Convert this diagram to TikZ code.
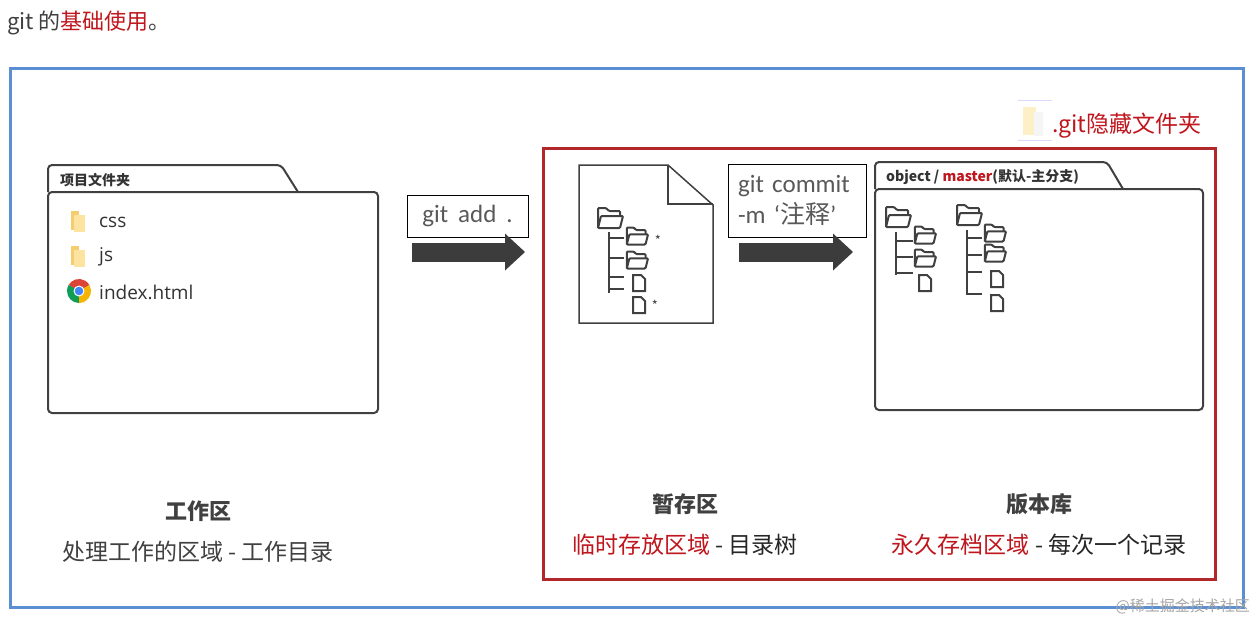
\documentclass[tikz,border=0pt]{standalone}
\usepackage{fontspec}
\setmainfont{Noto Sans CJK SC}
\newfontfamily\cmdfont{Carlito}
\newfontfamily\filefont{Open Sans}
\usetikzlibrary{arrows.meta}
\definecolor{framblue}{RGB}{91,143,212}
\definecolor{framred}{RGB}{178,40,42}
\definecolor{txtred}{RGB}{192,22,29}
\definecolor{inkgray}{RGB}{64,64,64}
\definecolor{arrgray}{RGB}{60,60,60}
\definecolor{foldyel}{RGB}{245,205,110}
\definecolor{foldlight}{RGB}{252,228,160}
\definecolor{chred}{RGB}{219,68,55}
\definecolor{chgreen}{RGB}{15,157,88}
\definecolor{chyellow}{RGB}{244,180,0}
\definecolor{chblue}{RGB}{66,133,244}

\begin{document}
\begin{tikzpicture}[x=1pt, y=-1pt]
\tikzstyle{every node} = [inner sep=0pt, text=inkgray]
\tikzstyle{folderline} = [draw=inkgray, line width=2pt]
\tikzstyle{folderbody} = [folderline, rectangle, rounded corners=4pt, outer sep=0pt]
\tikzstyle{treeline} = [draw=black!75, line width=2pt]
\tikzstyle{cmdbox} = [draw=black, line width=1pt, font=\cmdfont\fontsize{25}{31}\selectfont, text=black!65]
\tikzstyle{blockarr} = [draw=arrgray, line width=19pt, -{Triangle[length=20pt 0 0, width=37pt 0 0, line width=0pt 0 0]}]
\tikzstyle{areatitle} = [font=\bfseries\fontsize{22}{26}\selectfont]
\tikzstyle{areadesc} = [font=\fontsize{23}{27}\selectfont]
\tikzstyle{filename} = [anchor=west, font=\filefont\fontsize{19}{22}\selectfont, text=black!80]
\tikzset{
  dirico/.pic={
    \draw[treeline, rounded corners=1pt] (-12,10) -- (-12,-10) -- (-4,-10) -- (-1,-7) -- (10,-7) -- (10,-2);
    \draw[treeline, rounded corners=1pt] (-12,10) -- (-9,-2) -- (13,-2) -- (10,10) -- cycle;},
  fileico/.pic={
    \draw[treeline] (-6,-8) -- (2,-8) -- (6,-4) -- (6,8) -- (-6,8) -- cycle;}
}
\fill[white] (0,0) rectangle (1256,621);
\useasboundingbox (0,0) rectangle (1256,621);

% title and frames
\node[anchor=west, font=\fontsize{22}{26}\selectfont] (title) at (7,23) {git 的{\color{txtred}基础使用}。};
\draw[framblue, line width=3pt] (10,68) rectangle (1243,607);
\draw[framred, line width=3pt] (543,148) rectangle (1215,579);

% working folder
\node[folderbody, minimum width=330, minimum height=221] (work) at (213,302.5) {};
\draw[folderline, rounded corners=4pt] (work.north west) |- ++(233,-27) -- ++(17,27);
\node[anchor=west, font=\bfseries\fontsize{14}{16}\selectfont, text=black!80] (worktab) at (60,180) {项目文件夹};
\foreach \y in {221,256} {
  \fill[foldyel] (71,\y-10) rectangle (79,\y+9);
  \fill[foldlight] (74,\y-6) rectangle (85,\y+11);
}
\begin{scope}[shift={(79,291)}]
\fill[chred] (0,0) -- (210:12) arc[start angle=210, end angle=330, radius=12] -- cycle;
\fill[chgreen] (0,0) -- (90:12) arc[start angle=90, end angle=210, radius=12] -- cycle;
\fill[chyellow] (0,0) -- (-30:12) arc[start angle=-30, end angle=90, radius=12] -- cycle;
\fill[white] (0,0) circle[radius=5.5];
\fill[chblue] (0,0) circle[radius=4.3];
\end{scope}
\node[filename] (css) at (99,222) {css};
\node[filename] (js) at (99,257) {js};
\node[filename] (index) at (99,292) {index.html};

% git add
\node[cmdbox, minimum width=121, minimum height=42] (addbox) at (467.5,216) {git\hspace{10pt}add\hspace{10pt}.};
\coordinate (addS) at (412,252);
\coordinate (addE) at (525,252);
\draw[blockarr] (addS) -- (addE);

% staging tree
\draw[treeline, line width=1.5pt] (579,165) -- (668,165) -- (713,205) -- (713,323) -- (579,323) -- cycle;
\draw[treeline, line width=1.5pt] (668,165) -- (668,204) -- (713,204);
\pic at (610,218) {dirico};
\draw[treeline] (609,232) -- (609,293);
\foreach \y in {238,258,277,289}
\draw[treeline] (609,\y) -- (624,\y);
\foreach \x/\y in {637/236, 637/260}
\pic[scale=.85] at (\x,\y) {dirico};
\foreach \x/\y in {639/283, 639/305}
\pic at (\x,\y) {fileico};
\node[font=\fontsize{13}{14}\selectfont] (star1) at (658,240) {*};
\node[font=\fontsize{13}{14}\selectfont] (star2) at (655,305) {*};

% git commit
\node[cmdbox, minimum width=138, minimum height=73, text width=118, align=left] (cmbox) at (797,200.5) {git commit\\-m ‘{\fontspec{Noto Sans CJK SC}注释}’};
\coordinate (cmS) at (739,252);
\coordinate (cmE) at (853,252);
\draw[blockarr] (cmS) -- (cmE);

% repository folder
\node[folderbody, minimum width=328, minimum height=221] (repo) at (1039,299.5) {};
\draw[folderline, rounded corners=4pt] (repo.north west) |- ++(232,-27) -- ++(16,27);
\node[anchor=west, font=\bfseries\fontsize{14}{16}\selectfont, text=black!80] (repotab) at (886,177) {object / {\color{txtred}master}(默认-主分支)};
\pic at (898,217) {dirico};
\draw[treeline] (896,232) -- (896,275);
\foreach \y in {241,257,273}
\draw[treeline] (896,\y) -- (913,\y);
\foreach \x/\y in {925/235, 925/258}
\pic[scale=.85] at (\x,\y) {dirico};
\pic at (925,283) {fileico};
\pic at (969,215) {dirico};
\draw[treeline] (967,230) -- (967,295);
\foreach \y in {238,255,272,294}
\draw[treeline] (967,\y) -- (982,\y);
\foreach \x/\y in {995/233, 995/253}
\pic[scale=.85] at (\x,\y) {dirico};
\foreach \x/\y in {997/279, 997/303}
\pic at (\x,\y) {fileico};

% hidden .git folder
\draw[blue!15, line width=1pt] (1018,100) -- (1052,100) (1018,140) -- (1052,140);
\fill[foldlight!60] (1023,107) rectangle (1036,135);
\fill[black!4] (1034,112) rectangle (1043,136);
\node[anchor=west, font=\fontsize{23}{26}\selectfont, text=txtred] (gitlbl) at (1052,126) {.git隐藏文件夹};

% area labels
\node[areatitle] (workT) at (198,511) {工作区};
\node[areadesc] (workD) at (198,552) {处理工作的区域 - 工作目录};
\node[areatitle] (stageT) at (685,504) {暂存区};
\node[areadesc, text=black!85] (stageD) at (685,545) {{\color{txtred}临时存放区域} - 目录树};
\node[areatitle] (repoT) at (1039,504) {版本库};
\node[areadesc, text=black!85] (repoD) at (1039,545) {{\color{txtred}永久存档区域} - 每次一个记录};
\node[anchor=east, font=\fontsize{15}{17}\selectfont, text=black!35] (wmark) at (1250,606) {@稀土掘金技术社区};
\end{tikzpicture}
\end{document}
